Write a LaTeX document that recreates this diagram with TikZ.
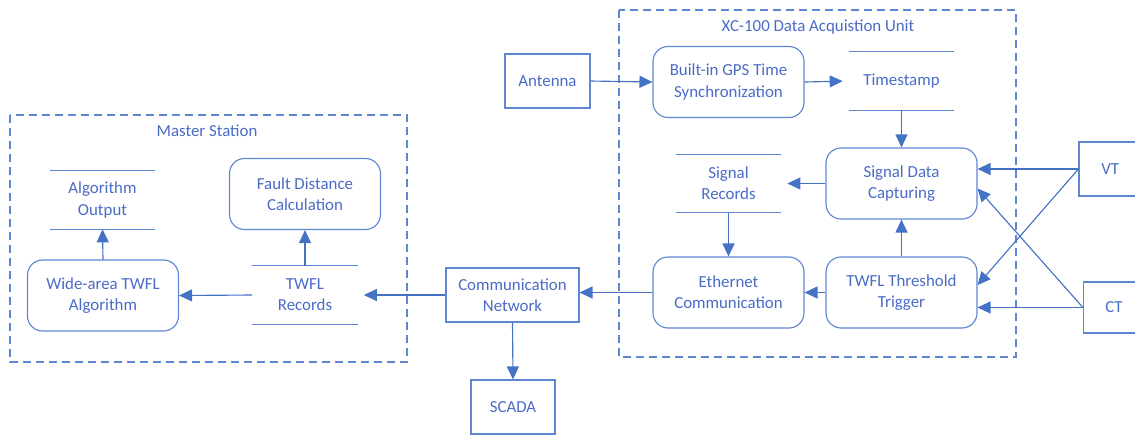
\documentclass[tikz,border=0pt]{standalone}
\usepackage{fontspec}
\setmainfont{Carlito}
\usetikzlibrary{arrows.meta}
\definecolor{ln}{HTML}{5F86D3}
\definecolor{ar}{HTML}{4472C4}
\definecolor{tx}{HTML}{4A6BC6}
\tikzset{
  every node/.style={font=\fontsize{9.6}{12}\selectfont, text=tx, align=center, inner sep=0pt},
  rbox/.style={draw=ln, line width=0.65pt, rounded corners=0.3cm, minimum width=3.02cm, minimum height=1.42cm},
  sbox/.style={draw=ln, line width=0.65pt, minimum height=1.08cm},
  store/.style={minimum width=2.1cm, minimum height=1.16cm,
    append after command={(\tikzlastnode.north west) edge[draw=ln, line width=0.65pt] (\tikzlastnode.north east)
                          (\tikzlastnode.south west) edge[draw=ln, line width=0.65pt] (\tikzlastnode.south east)}},
  grp/.style={draw=ln, line width=0.65pt, dash pattern=on 0.16cm off 0.1cm},
  arr/.style={draw=ar, line width=0.65pt, -{Triangle[length=0.26cm, width=0.24cm]}},
  sh/.style={shorten >=0.12cm}
}
\begin{document}
\begin{tikzpicture}[x=0.02cm, y=-0.02cm]
\useasboundingbox (0,0) rectangle (1135,434);
\clip (0,0) rectangle (1135,434);
% groups
\draw[grp] (10,115) rectangle (407,362);
\node (mslabel) at (207,131) {Master Station};
\draw[grp] (619,10) rectangle (1016,357);
\node (xclabel) at (818,27) {XC-100 Data Acquistion Unit};
% master station
\node[store] (algout) at (102.5,200) {Algorithm\\Output};
\node[rbox] (fault) at (305,194) {Fault Distance\\Calculation};
\node[rbox] (wide) at (103,295.5) {Wide-area TWFL\\Algorithm};
\node[store] (twflrec) at (305,295) {TWFL\\Records};
% middle
\node[sbox, minimum width=2.66cm] (comm) at (512.5,295) {Communication\\Network};
\node[sbox, minimum width=1.68cm] (scada) at (513,407) {SCADA};
\node[sbox, minimum width=1.7cm] (antenna) at (547.5,81) {Antenna};
% XC-100
\node[rbox] (gps) at (728.5,82) {Built-in GPS Time\\Synchronization};
\node[store] (stamp) at (901.5,81) {Timestamp};
\node[rbox] (sdc) at (901.5,183.5) {Signal Data\\Capturing};
\node[store] (sigrec) at (728.5,183.5) {Signal\\Records};
\node[rbox] (ether) at (728.5,292.5) {Ethernet\\Communication};
\node[rbox] (trig) at (901.5,292.5) {TWFL Threshold\\Trigger};
% VT CT
\node[sbox, minimum width=1.3cm, text width=1.3cm] (vt) at (1111.5,169) {\hspace*{-0.05cm}VT};
\node[sbox, minimum width=1.22cm, minimum height=1.02cm] (ct) at (1114,307.5) {CT};
% arrows
\draw[arr] (wide.north) -- (algout.south);
\draw[arr] (twflrec.north) -- (fault.south);
\draw[arr] (twflrec.west) -- (wide.east);
\draw[arr, sh] (comm.west) -- (twflrec.east);
\draw[arr] (comm.south) -- (scada.north);
\draw[arr] (ether.west) -- (ether.west -| comm.east);
\draw[arr] (antenna.east) -- (gps.west);
\draw[arr, sh] (gps.east) -- (stamp.west);
\draw[arr] (stamp.south) -- (sdc.north);
\draw[arr, sh] (sdc.west) -- (sigrec.east);
\draw[arr] (sigrec.south) -- (ether.north);
\draw[arr] (trig.west) -- (ether.east);
\draw[arr] (trig.north) -- (sdc.south);
\draw[arr] (vt.west) -- (vt.west -| sdc.east);
\draw[arr] (vt.west) -- ([yshift=0.15cm]trig.east);
\draw[arr] (ct.west) -- ([yshift=-0.1cm]sdc.east);
\draw[arr] (ct.west) -- (ct.west -| trig.east);
\end{tikzpicture}
\end{document}
